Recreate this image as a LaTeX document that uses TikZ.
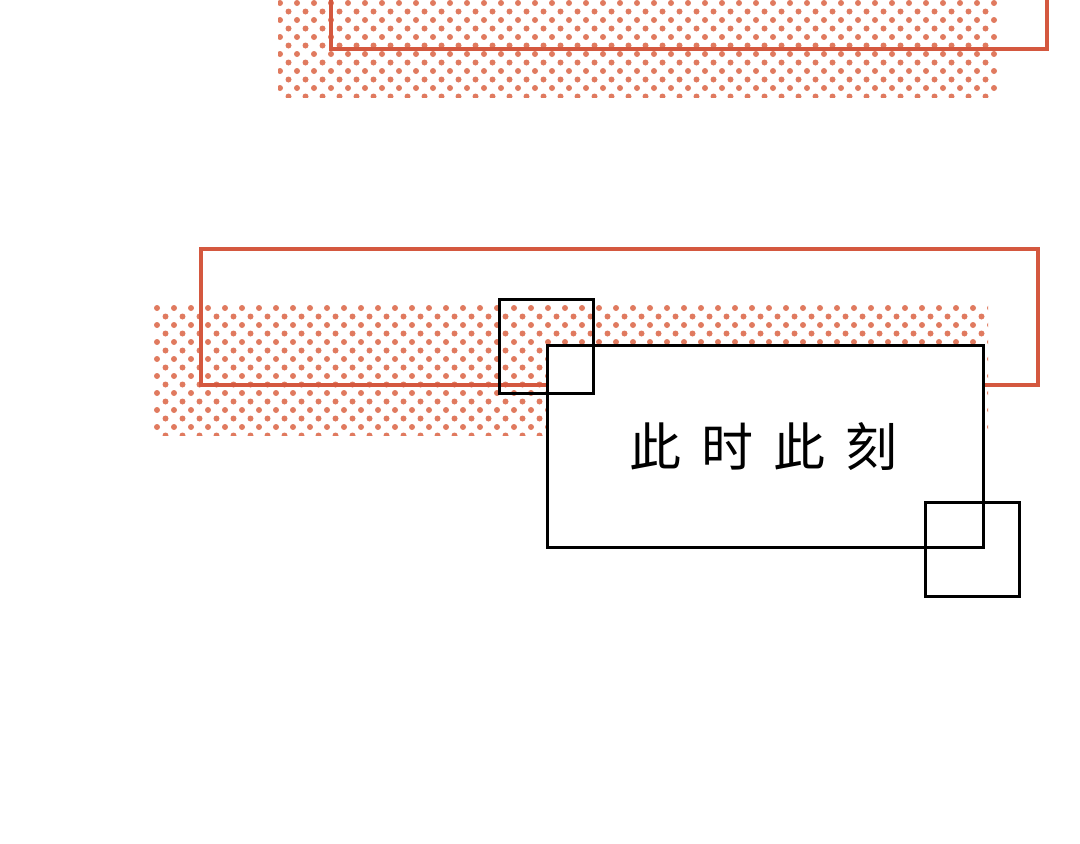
\documentclass[tikz,border=0pt]{standalone}
\usepackage{fontspec}
\newfontfamily\cjk{Noto Sans CJK SC}[Scale=1]
\definecolor{framered}{HTML}{D4583F}
\definecolor{dotred}{HTML}{E07A5F}
\tikzset{
  redframe/.style={draw=framered, line width=4.5pt},
  blackframe/.style={draw=black, line width=3pt},
  dotfill/.style={fill=dotred}
}
\begin{document}
\begin{tikzpicture}[x=1pt,y=-1pt]
	\useasboundingbox (0,0) rectangle (1080,844);
	% dotted screens
	\begin{scope}
		\clip (278,0) rectangle (997,97);
		\foreach \r in {0,...,12} {
			\foreach \c in {0,...,43} {
				\fill[dotfill] ({280+17*\c+8.5*mod(\r,2)},{3+8.5*\r}) circle (3);
			}
		}
	\end{scope}
	\begin{scope}
		\clip (153,303) rectangle (988,435);
		\foreach \r in {0,...,16} {
			\foreach \c in {0,...,50} {
				\fill[dotfill] ({157+17*\c+8.5*mod(\r,2)},{308+8.5*\r}) circle (3);
			}
		}
	\end{scope}
	% red frames
	\draw[redframe] (331,-10) rectangle (1047,49);
	\draw[redframe] (201,249) rectangle (1038,385);
	% caption box
	\node[blackframe, fill=white, minimum width=436pt, minimum height=202pt, anchor=north west, inner sep=0pt] (caption) at (546,344) {};
	\node[font=\cjk\fontsize{52}{52}\selectfont] (text) at ([xshift=-2pt]caption.center) {此\hspace{20pt}时\hspace{20pt}此\hspace{20pt}刻};
	\node[blackframe, minimum size=94pt, anchor=north west, inner sep=0pt] (sqA) at (498,298) {};
	\node[blackframe, minimum size=94pt, anchor=north west, inner sep=0pt] (sqB) at (924,501) {};
\end{tikzpicture}
\end{document}
